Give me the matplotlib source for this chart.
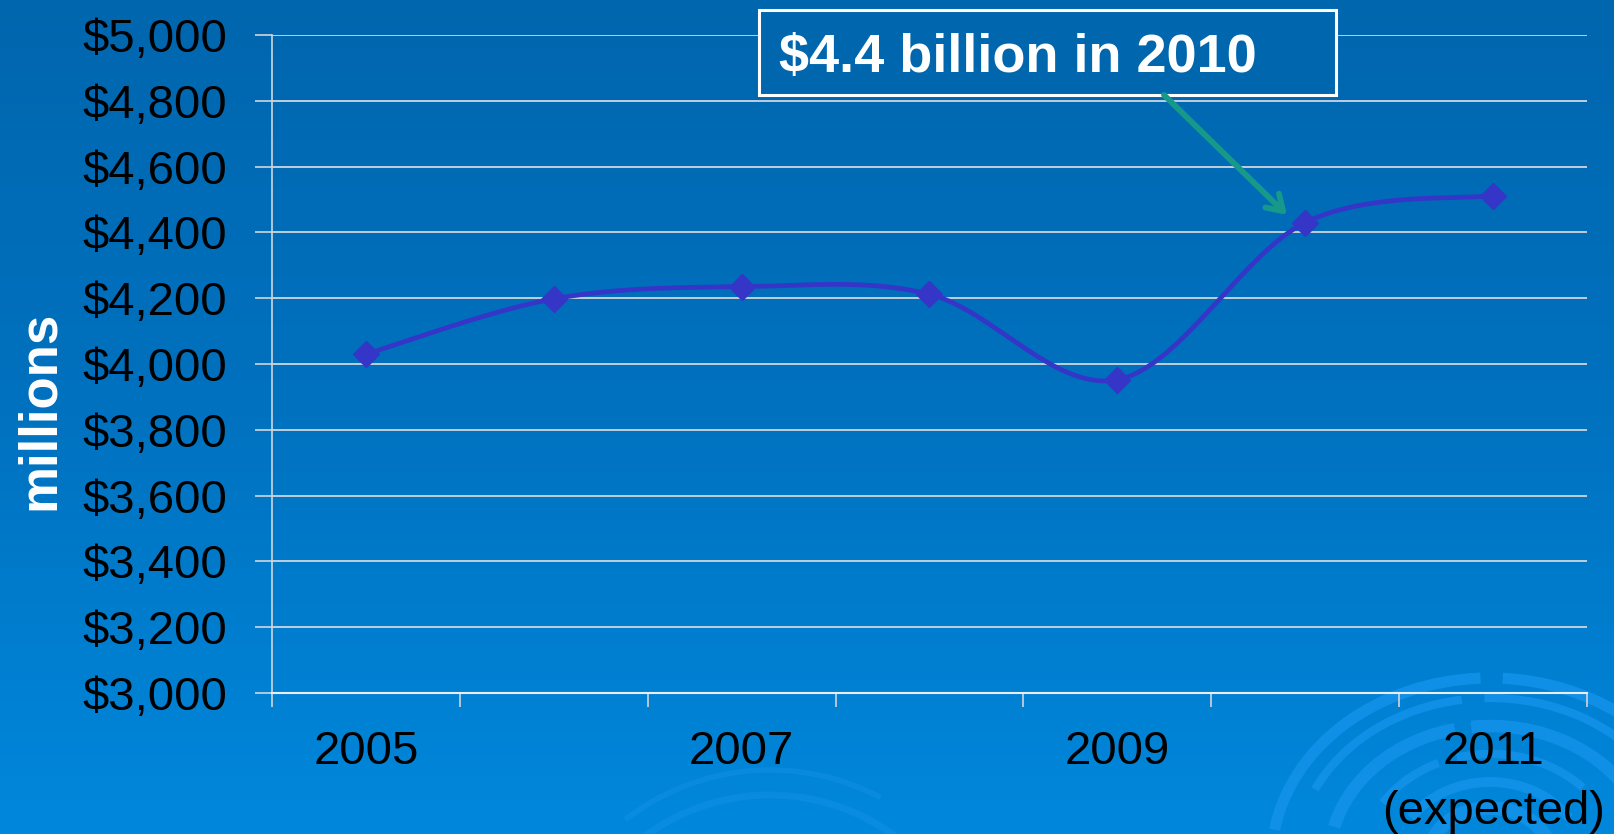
import numpy as np
import matplotlib
matplotlib.use("Agg")
import matplotlib.pyplot as plt
from matplotlib.patches import Arc, Rectangle, FancyArrowPatch
from matplotlib.colors import LinearSegmentedColormap

# Annual revenue, millions of dollars
years = ["2005", "2006", "2007", "2008", "2009", "2010", "2011"]
revenue = [4030, 4198, 4235, 4212, 3952, 4430, 4512]
shown_labels = ["2005", "", "2007", "", "2009", "", "2011\n(expected)"]
y_ticks = [3000, 3200, 3400, 3600, 3800, 4000, 4200, 4400, 4600, 4800, 5000]
callout = "$4.4 billion in 2010"

W, H = 1614, 834
plt.rcParams["font.family"] = ["Liberation Sans", "DejaVu Sans"]

fig = plt.figure(figsize=(W / 100, H / 100), dpi=100)

# ---- background: vertical gradient plus decorative concentric arcs ----
bg = fig.add_axes([0, 0, 1, 1], zorder=0)
bg.set_xlim(0, W)
bg.set_ylim(H, 0)
bg.axis("off")
cmap = LinearSegmentedColormap.from_list("bg", ["#0066ae", "#0072c0", "#0088dc"])
grad = np.linspace(0, 1, 256).reshape(-1, 1)
bg.imshow(grad, cmap=cmap, extent=(0, W, H, 0), aspect="auto", zorder=0)

arc_col = "#1492ea"
cx, cy, sx = 1490, 860, 1.2
for r, lw, t1, t2 in [
    (182, 8, 93, 172), (182, 8, 18, 86),
    (162, 6, 100, 158), (162, 6, 28, 92),
    (134, 9, 105, 168), (134, 9, 22, 98),
    (106, 6, 118, 152), (106, 6, 38, 108),
    (78, 7, 28, 152),
    (52, 10, 0, 180),
]:
    bg.add_patch(Arc((cx, cy), 2 * r * sx, 2 * r, theta1=-t2, theta2=-t1,
                     color=arc_col, lw=lw, alpha=0.85, zorder=1))
for r, lw, t1, t2 in [(235, 4, 62, 128), (210, 5, 52, 138)]:
    bg.add_patch(Arc((770, 1005), 2 * r, 2 * r, theta1=-t2, theta2=-t1,
                     color=arc_col, lw=lw, alpha=0.45, zorder=1))

# ---- main chart ----
ax = fig.add_axes([272 / W, 1 - 693 / H, (1587 - 272) / W, (693 - 35) / H], zorder=2)
ax.patch.set_alpha(0)

x = np.arange(len(years))
ax.set_xlim(-0.5, len(years) - 0.5)
ax.set_ylim(y_ticks[0], y_ticks[-1])

# smoothed line through the points (uniform Catmull-Rom as cubic Bezier)
pts = np.column_stack([x, revenue]).astype(float)
ext = np.vstack([pts[0], pts, pts[-1]])
curve = []
for i in range(len(pts) - 1):
    p0, p1, p2, p3 = ext[i], ext[i + 1], ext[i + 2], ext[i + 3]
    c1 = p1 + (p2 - p0) / 6
    c2 = p2 - (p3 - p1) / 6
    t = np.linspace(0, 1, 40)[:, None]
    seg = (1 - t) ** 3 * p1 + 3 * (1 - t) ** 2 * t * c1 + 3 * (1 - t) * t ** 2 * c2 + t ** 3 * p2
    curve.append(seg if i == 0 else seg[1:])
curve = np.vstack(curve)
ax.plot(curve[:, 0], curve[:, 1], color="#3535c8", lw=3.4, zorder=3,
        solid_capstyle="round")
ax.plot(x, revenue, linestyle="none", marker="D", ms=13, color="#3535c8", zorder=4)

# gridlines and axes
grid_col = "#cfd6de"
ax.set_yticks(y_ticks)
ax.set_yticklabels(["${:,}".format(v) for v in y_ticks], fontsize=34, color="black")
ax.yaxis.grid(True, color=grid_col, lw=1.3)
ax.tick_params(axis="y", length=12, width=1.2, color=grid_col, pad=20)

ax.set_xticks(x)
ax.set_xticklabels(shown_labels, fontsize=34, color="black", linespacing=1.45)
ax.set_xticks(np.arange(-0.5, len(years)), minor=True)
ax.tick_params(axis="x", which="major", length=0, pad=27)
ax.tick_params(axis="x", which="minor", length=10, width=1.2, color=grid_col)

for side in ["top", "right"]:
    ax.spines[side].set_visible(False)
ax.spines["left"].set_color(grid_col)
ax.spines["left"].set_linewidth(1.2)
ax.spines["bottom"].set_color("#e8eef4")
ax.spines["bottom"].set_linewidth(1.5)
ax.set_axisbelow(True)

fig.text(40 / W, 1 - 410 / H, "millions", rotation=90, color="white",
         fontsize=38, fontweight="bold", ha="center", va="center")

# ---- callout box with arrow towards the 2010 point ----
top = fig.add_axes([0, 0, 1, 1], zorder=5)
top.set_xlim(0, W)
top.set_ylim(H, 0)
top.axis("off")
top.patch.set_alpha(0)
top.add_patch(Rectangle((759, 10), 1336 - 759, 85, facecolor="#0067ae",
                        edgecolor="white", lw=2.2, zorder=5))
top.text(779, 58, callout, color="white", fontsize=39, fontweight="bold",
         ha="left", va="center", zorder=6)
top.add_patch(FancyArrowPatch((1164, 95), (1287, 215),
                              arrowstyle="->,head_length=11,head_width=7",
                              color="#16998a", lw=4.2, shrinkA=0, shrinkB=0,
                              zorder=6))

fig.savefig("out.png", dpi=100)
